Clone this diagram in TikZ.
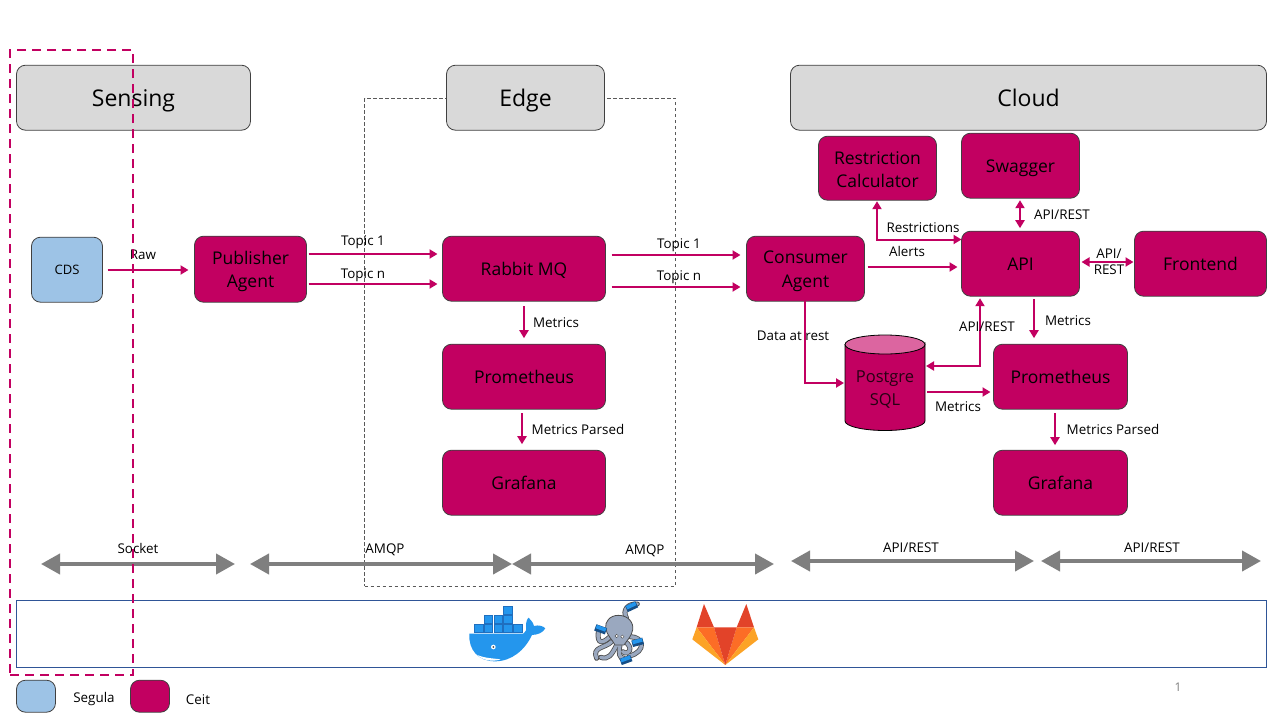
\documentclass[tikz,border=0pt]{standalone}
\usepackage{fontspec}
\setmainfont{Open Sans}
\usetikzlibrary{arrows.meta,positioning,calc}
\definecolor{mag}{HTML}{C20061}
\definecolor{magl}{HTML}{DC65A0}
\definecolor{hdr}{HTML}{D9D9D9}
\definecolor{bluebox}{HTML}{9DC3E6}
\definecolor{edgec}{HTML}{404040}
\definecolor{arr}{HTML}{7F7F7F}
\definecolor{stripc}{HTML}{2F5597}
\definecolor{octo}{HTML}{9AA8BF}
\definecolor{dock}{HTML}{2496ED}
\definecolor{dockd}{HTML}{1F6FBF}
\definecolor{glr}{HTML}{E24329}
\definecolor{glo}{HTML}{FC6D26}
\definecolor{gly}{HTML}{FCA326}
\newcommand{\bx}[6][]{\node[#2,minimum width=#5-#3+1,minimum height=#6-#4+1,#1] at ({(#3+#5)/2},{(#4+#6)/2-.3})}
\tikzset{
 x=1pt,y=-1pt,
 every node/.style={inner sep=0pt,outer sep=0pt,align=center,font=\fontsize{13}{15}\selectfont},
 hdrbox/.style={draw=edgec,line width=.8pt,fill=hdr,rounded corners=9pt,font=\fontsize{23}{27}\selectfont,text height=17.5pt,text depth=0pt},
 magbox/.style={draw=edgec,line width=.8pt,fill=mag,rounded corners=9pt,font=\fontsize{17.5}{23.5}\selectfont,text=black},
 oneline/.style={text height=14.5pt,text depth=0pt},
 blubox/.style={draw=edgec,line width=.8pt,fill=bluebox,rounded corners=9pt,font=\fontsize{13}{15}\selectfont},
 conn/.style={draw=mag,line width=2pt,-{Triangle[length=8pt,width=9pt]}},
 conn2/.style={draw=mag,line width=2pt,{Triangle[length=8pt,width=9pt]}-{Triangle[length=8pt,width=9pt]}},
 gray2/.style={draw=arr,line width=4pt,{Triangle[length=19pt,width=20pt]}-{Triangle[length=19pt,width=20pt]}},
 lab/.style={font=\fontsize{13.4}{15}\selectfont,text height=11.3pt,text depth=0pt},
 tent/.style={line width=5pt,draw=black!70,line cap=round},
 tentin/.style={line width=3.4pt,draw=octo,line cap=round},
}
\begin{document}
\begin{tikzpicture}
\useasboundingbox (0,0) rectangle (1280,720);
\fill[white] (0,0) rectangle (1280,720);
% thin dashed frame
\node[draw=black!65,dash pattern=on 3.5pt off 2.5pt,line width=.8pt,minimum width=311,minimum height=488] (edgeframe) at (520,342) {};
% headers
\bx{hdrbox}{17}{66}{250}{130} (sensing) {Sensing};
\bx{hdrbox}{447}{66}{604}{130} (edge) {Edge};
\bx{hdrbox}{791}{66}{1266}{130} (cloud) {Cloud};
% boxes
\bx{blubox}{32}{238}{102}{302} (cds) {CDS};
\bx{magbox}{195}{237}{306}{302} (pub) {\rule{0pt}{17.3pt}Publisher\\Agent};
\bx[oneline]{magbox}{443}{237}{605}{301} (rabbit) {Rabbit MQ};
\bx[oneline]{magbox}{443}{345}{605}{409} (prom) {Prometheus};
\bx[oneline]{magbox}{443}{451}{605}{515} (graf) {Grafana};
\bx{magbox}{747}{237}{864}{301} (cons) {\rule{0pt}{17.3pt}Consumer\\Agent};
\bx{magbox}{819}{137}{936}{200} (restr) {\rule{0pt}{15.5pt}Restriction\\Calculator};
\bx[oneline]{magbox}{962}{134}{1079}{198} (swag) {Swagger};
\bx[oneline]{magbox}{962}{232}{1079}{296} (api) {API};
\bx[oneline]{magbox}{1135}{232}{1266}{296} (front) {Frontend};
\bx[oneline]{magbox}{994}{345}{1127}{409} (prom2) {Prometheus};
\bx[oneline]{magbox}{994}{451}{1127}{515} (graf2) {Grafana};
% cylinder
\path[draw=black,line width=.8pt,fill=mag] (845,344) -- (845,421) arc[start angle=180,end angle=360,x radius=40,y radius=-9.5] -- (925,344) arc[start angle=0,end angle=180,x radius=40,y radius=9.5];
\path[draw=black,line width=.8pt,fill=magl] (885,344.5) ellipse[x radius=40,y radius=9.5];
\node[minimum width=80,minimum height=96,text=black!80!mag,font=\fontsize{16.5}{23}\selectfont] (pg) at (885,390) {Postgre\\SQL};
% connectors
\draw[conn,shorten <=5pt,shorten >=6pt] (cds.east |- 0,270) -- (pub.west |- 0,270);
\draw[conn,shorten <=2pt,shorten >=5pt] (pub.east |- 0,254) -- (rabbit.west |- 0,254);
\draw[conn,shorten <=2pt,shorten >=5pt] (pub.east |- 0,284) -- (rabbit.west |- 0,284);
\draw[conn,shorten <=6pt,shorten >=6pt] (rabbit.east |- 0,255) -- (cons.west |- 0,255);
\draw[conn,shorten <=6pt,shorten >=6pt] (rabbit.east |- 0,287) -- (cons.west |- 0,287);
\draw[conn,shorten <=5pt,shorten >=6pt] (rabbit.south -| 524,0) -- (prom.north -| 524,0);
\draw[conn,shorten <=4pt,shorten >=6pt] (prom.south -| 522,0) -- (graf.north -| 522,0);
\draw[conn,shorten <=3pt,shorten >=4pt] (cons.east |- 0,267) -- (api.west |- 0,267);
\draw[conn2,shorten >=1pt] (api.west |- 0,239.5) -| (restr.south -| 877,0);
\draw[conn2,shorten <=2pt,shorten >=3pt] (swag.south -| 1020,0) -- (api.north -| 1020,0);
\draw[conn2,shorten <=2pt,shorten >=1pt] (api.east |- 0,262) -- (front.west |- 0,262);
\draw[conn,shorten >=1pt] (cons.south -| 805,0) |- (pg.west |- 0,383);
\draw[conn2,shorten <=2pt,shorten >=1pt] (api.south -| 980,0) |- (pg.east |- 0,366);
\draw[conn,shorten <=2pt,shorten >=3pt] (pg.east |- 0,392) -- (prom2.west |- 0,392);
\draw[conn,shorten <=3pt,shorten >=6pt] (api.south -| 1034,0) -- (prom2.north -| 1034,0);
\draw[conn,shorten <=4pt,shorten >=5pt] (prom2.south -| 1055,0) -- (graf2.north -| 1055,0);
% labels
\node[lab] (l1) at (143,254) {Raw};
\node[lab] (l2) at (363,240) {Topic 1};
\node[lab] (l3) at (363,273) {Topic n};
\node[lab] (l4) at (679,243) {Topic 1};
\node[lab] (l5) at (679,275) {Topic n};
\node[lab] (l6) at (556,322) {Metrics};
\node[lab] (l7) at (578,429) {Metrics Parsed};
\node[lab] (l8) at (907,251) {Alerts};
\node[lab] (l9) at (923,227) {Restrictions};
\node[lab] (l10) at (1062,214) {API/REST};
\node[font=\fontsize{13.4}{15.5}\selectfont] (l11) at (1109,262) {API/\\REST};
\node[lab] (l12) at (793,335) {Data at rest};
\node[lab] (l13) at (987,326) {API/REST};
\node[lab] (l14) at (1068,320) {Metrics};
\node[lab] (l15) at (958,406) {Metrics};
\node[lab] (l16) at (1113,429) {Metrics Parsed};
% bottom arrows
\coordinate (g1a) at (41,564); \coordinate (g1b) at (235,564);
\coordinate (g2a) at (250,564); \coordinate (g2b) at (512,564);
\coordinate (g3a) at (512,564); \coordinate (g3b) at (774,564);
\coordinate (g4a) at (791,561); \coordinate (g4b) at (1034,561);
\coordinate (g5a) at (1041,561); \coordinate (g5b) at (1261,561);
\foreach \i in {1,...,5} \draw[gray2] (g\i a) -- (g\i b);
\node[lab] (s1) at (138,548) {Socket};
\node[lab] (s2) at (385,548) {AMQP};
\node[lab] (s3) at (645,549) {AMQP};
\node[lab] (s4) at (911,547) {API/REST};
\node[lab] (s5) at (1152,547) {API/REST};
% strip
\node[draw=stripc,line width=.8pt,minimum width=1250,minimum height=67] (strip) at (641.3,633.8) {};
% icons (coordinates in zoom space)
\begin{scope}[shift={(440,590)},x=0.3333pt,y=-0.3333pt]
 % gitlab
 \fill[glr] (792,42) -- (822,112) -- (770,112) -- cycle;
 \fill[glr] (919,42) -- (890,112) -- (942,112) -- cycle;
 \fill[glo] (770,112) -- (822,112) -- (856,225) -- cycle;
 \fill[glo] (942,112) -- (890,112) -- (856,225) -- cycle;
 \fill[gly] (770,112) -- (757,148) -- (856,225) -- cycle;
 \fill[gly] (942,112) -- (955,148) -- (856,225) -- cycle;
 \fill[glr] (822,112) -- (890,112) -- (856,225) -- cycle;
 % docker
 \fill[dock] (88,131) -- (250,131) .. controls (258,128) and (260,118) .. (258,108) .. controls (258,95) and (262,85) .. (266,83) .. controls (274,90) and (280,100) .. (282,108) .. controls (295,104) and (310,108) .. (316,115) .. controls (308,128) and (295,134) .. (276,135) .. controls (255,180) and (215,214) .. (165,214) .. controls (115,214) and (85,180) .. (88,131) -- cycle;
 \fill[white] (112,195) .. controls (135,205) and (160,205) .. (182,208) .. controls (160,216) and (128,212) .. (112,195) -- cycle;
 \fill[white] (160,171) circle[radius=7];
 \fill[black!70] (160,171) circle[radius=3];
 \foreach \cx/\cy in {103/103,132/103,161/103,190/103,220/103,132/75,161/75,190/75,190/48} {
  \fill[dockd] (\cx,\cy) rectangle ++(28,26);
  \fill[dock] (\cx+3,\cy+3) rectangle ++(22,20);
 }
 % octopus
 \def\tentlist{
  {(510,140) .. controls (490,160) and (470,165) .. (475,125)},
  {(515,155) .. controls (495,175) and (455,170) .. (470,205)},
  {(530,165) .. controls (515,195) and (505,210) .. (482,202)},
  {(540,165) .. controls (535,190) and (538,205) .. (552,205)},
  {(555,155) .. controls (580,170) and (570,200) .. (548,185)},
  {(570,140) .. controls (612,140) and (620,185) .. (568,198)},
  {(560,85) .. controls (545,60) and (565,40) .. (592,42)}}
 \foreach \p in \tentlist { \draw[tent] \p; }
 \foreach \p in \tentlist { \draw[tentin] \p; }
 \fill[octo,draw=black!70,line width=.8pt] (535,76) .. controls (565,76) and (582,98) .. (578,120) .. controls (574,140) and (562,150) .. (552,165) -- (525,165) .. controls (518,150) and (500,135) .. (497,115) .. controls (494,95) and (510,76) .. (535,76) -- cycle;
 \fill[white,draw=black!70,line width=.4pt] (530,138) circle[radius=5];
 \fill[white,draw=black!70,line width=.4pt] (547,140) circle[radius=5];
 \foreach \bxx/\byy/\rr in {575/50/25,482/118/-20,593/157/15,558/210/20} {
  \begin{scope}[rotate around={\rr:(\bxx,\byy)}]
  \fill[dockd!70!black] (\bxx-17,\byy-10) rectangle (\bxx+17,\byy+10);
  \fill[dock] (\bxx-15,\byy-9) rectangle (\bxx+15,\byy+2);
  \end{scope}
 }
\end{scope}
% red dashed selection
\node[draw=mag,line width=2pt,dash pattern=on 9pt off 6pt,minimum width=123,minimum height=625] (sel) at (71.5,362.5) {};
% legend
\bx{blubox}{17}{681}{55}{712} (lg1) {};
\bx{magbox}{131}{681}{169}{712} (lg2) {};
\node[lab] (t1) at (94,697) {Segula};
\node[lab] (t2) at (198,699) {Ceit};
\node[text=arr,font=\fontsize{12}{14}\selectfont] (pn) at (1178,687) {1};
\end{tikzpicture}
\end{document}
